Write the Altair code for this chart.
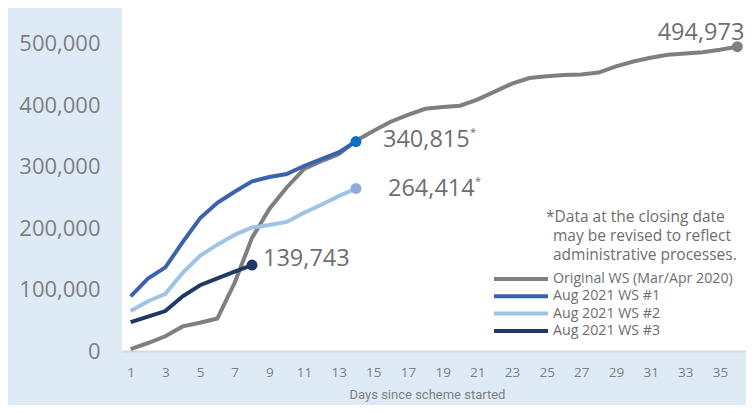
import altair as alt
import pandas as pd

days = list(range(1, 37))
series_names = ["Original WS (Mar/Apr 2020)", "Aug 2021 WS #1", "Aug 2021 WS #2", "Aug 2021 WS #3"]
original = [3000, 13000, 24000, 40000, 46000, 53000, 111000, 184000, 231000, 266000, 296000, 309000, 320000, 342000,
            358000, 373000, 384000, 394000, 397000, 399000, 409000, 422000, 435000, 444000, 447000, 449000,
            450000, 453000, 463000, 471000, 477000, 482000, 484000, 486000, 490000, 494973]
ws1 = [89000, 118000, 136000, 177000, 216000, 241000, 259000, 276000, 283000, 288000, 301000, 312000, 323000, 340815]
ws2 = [65000, 81000, 93000, 127000, 155000, 173000, 189000, 201000, 205000, 210000, 225000, 238000, 252000, 264414]
ws3 = [47000, 56000, 65000, 89000, 107000, 118000, 129000, 139743]
line_colors = ["#7f7f7f", "#3b62ad", "#9dc3e6", "#1f3864"]
end_colors = ["#7f7f7f", "#0e6fc1", "#8faadc", "#1f3864"]
end_labels = ["494,973", "340,815", "264,414", "139,743"]
end_star = ["", "*", "*", ""]
note_lines = ["*Data at the closing date", "may be revised to reflect", "administrative processes."]
y_ticks = [0, 100000, 200000, 300000, 400000, 500000]
x_ticks = list(range(1, 36, 2))

all_vals = [original, ws1, ws2, ws3]
rows = []
for name, vals in zip(series_names, all_vals):
    for d, v in zip(days, vals):
        rows.append({"day": d, "value": v, "series": name})
df = pd.DataFrame(rows)

ends = pd.DataFrame({
    "series": series_names,
    "day": [len(v) for v in all_vals],
    "value": [v[-1] for v in all_vals],
    "label": end_labels,
    "star": end_star,
})

FONT = "Open Sans"
GRAY = "#6e6e6e"

xs = alt.Scale(domain=[0.5, 36.5], nice=False, zero=False)
ys = alt.Scale(domain=[0, 558000], nice=False)

x_axis = alt.Axis(
    values=x_ticks, title="Days since scheme started", grid=False, ticks=False,
    domainColor="#d9d9d9", domainWidth=2, labelColor="#7f7f7f", labelFontSize=13.5, labelFont=FONT,
    labelPadding=14, labelOverlap=False, titleColor="#7f7f7f", titleFontSize=13,
    titleFontWeight="normal", titleFont="Roboto", titlePadding=10, labelFlush=False,
    titleX=305, titleAlign="center")
y_axis = alt.Axis(
    values=y_ticks, format=",d", title=None, grid=False, ticks=False, domain=False,
    labelColor="#7f7f7f", labelFontSize=22, labelFont=FONT, labelPadding=22, labelOverlap=False)

x_enc = alt.X("day:Q", scale=xs, axis=x_axis)
y_enc = alt.Y("value:Q", scale=ys, axis=y_axis)

lines = alt.Chart(df).mark_line(strokeWidth=4).encode(
    x=x_enc, y=y_enc,
    color=alt.Color("series:N", scale=alt.Scale(domain=series_names, range=line_colors), legend=None),
    order="day:Q",
)

point_layers = []
for name, col in zip(series_names, end_colors):
    sub = ends[ends["series"] == name]
    point_layers.append(alt.Chart(sub).mark_point(filled=True, size=120, opacity=1, color=col).encode(
        x=x_enc, y=y_enc))

offsets = {  # dx, dy, align
    series_names[0]: (7, -14, "right"),
    series_names[1]: (27, -2, "left"),
    series_names[2]: (32, 1, "left"),
    series_names[3]: (11, -6, "left"),
}
label_layers = []
for name in series_names:
    dx, dy, al = offsets[name]
    sub = ends[ends["series"] == name]
    label_layers.append(alt.Chart(sub).mark_text(
        align=al, baseline="middle", dx=dx, dy=dy, fontSize=23.5, font=FONT, color=GRAY
    ).encode(x=x_enc, y=y_enc, text="label:N"))
    if sub["star"].iloc[0]:
        label_layers.append(alt.Chart(sub).mark_text(
            align="left", baseline="middle", dx=dx + 87, dy=dy - 7, fontSize=11, font=FONT, color=GRAY
        ).encode(x=x_enc, y=y_enc, text="star:N"))

note_layers = []
for i, t in enumerate(note_lines):
    note_layers.append(alt.Chart(pd.DataFrame({"t": [t]})).mark_text(
        align="left", baseline="middle", fontSize=15.5, font=FONT, color=GRAY
    ).encode(x=alt.value(424 if i == 0 else 431), y=alt.value(209 + i * 19), text="t:N"))

legend_layers = []
for i, (name, col) in enumerate(zip(series_names, line_colors)):
    yy = 271 + i * 17.3
    legend_layers.append(alt.Chart(pd.DataFrame({"s": [name]})).mark_rule(strokeWidth=4, color=col).encode(
        x=alt.value(372), x2=alt.value(426), y=alt.value(yy)))
    legend_layers.append(alt.Chart(pd.DataFrame({"s": [name]})).mark_text(
        align="left", baseline="middle", fontSize=14.2, font=FONT, color=GRAY
    ).encode(x=alt.value(431), y=alt.value(yy), text="s:N"))

chart = alt.layer(lines, *point_layers, *label_layers, *note_layers, *legend_layers).properties(
    width=624, height=343,
    padding={"left": 114, "top": 0, "right": 0, "bottom": 54},
    autosize=alt.AutoSizeParams(type="none"),
    background="#deebf7",
).configure_view(fill="white", stroke=None)

chart.save("out.html", embed_options={"renderer": "svg", "actions": False})
